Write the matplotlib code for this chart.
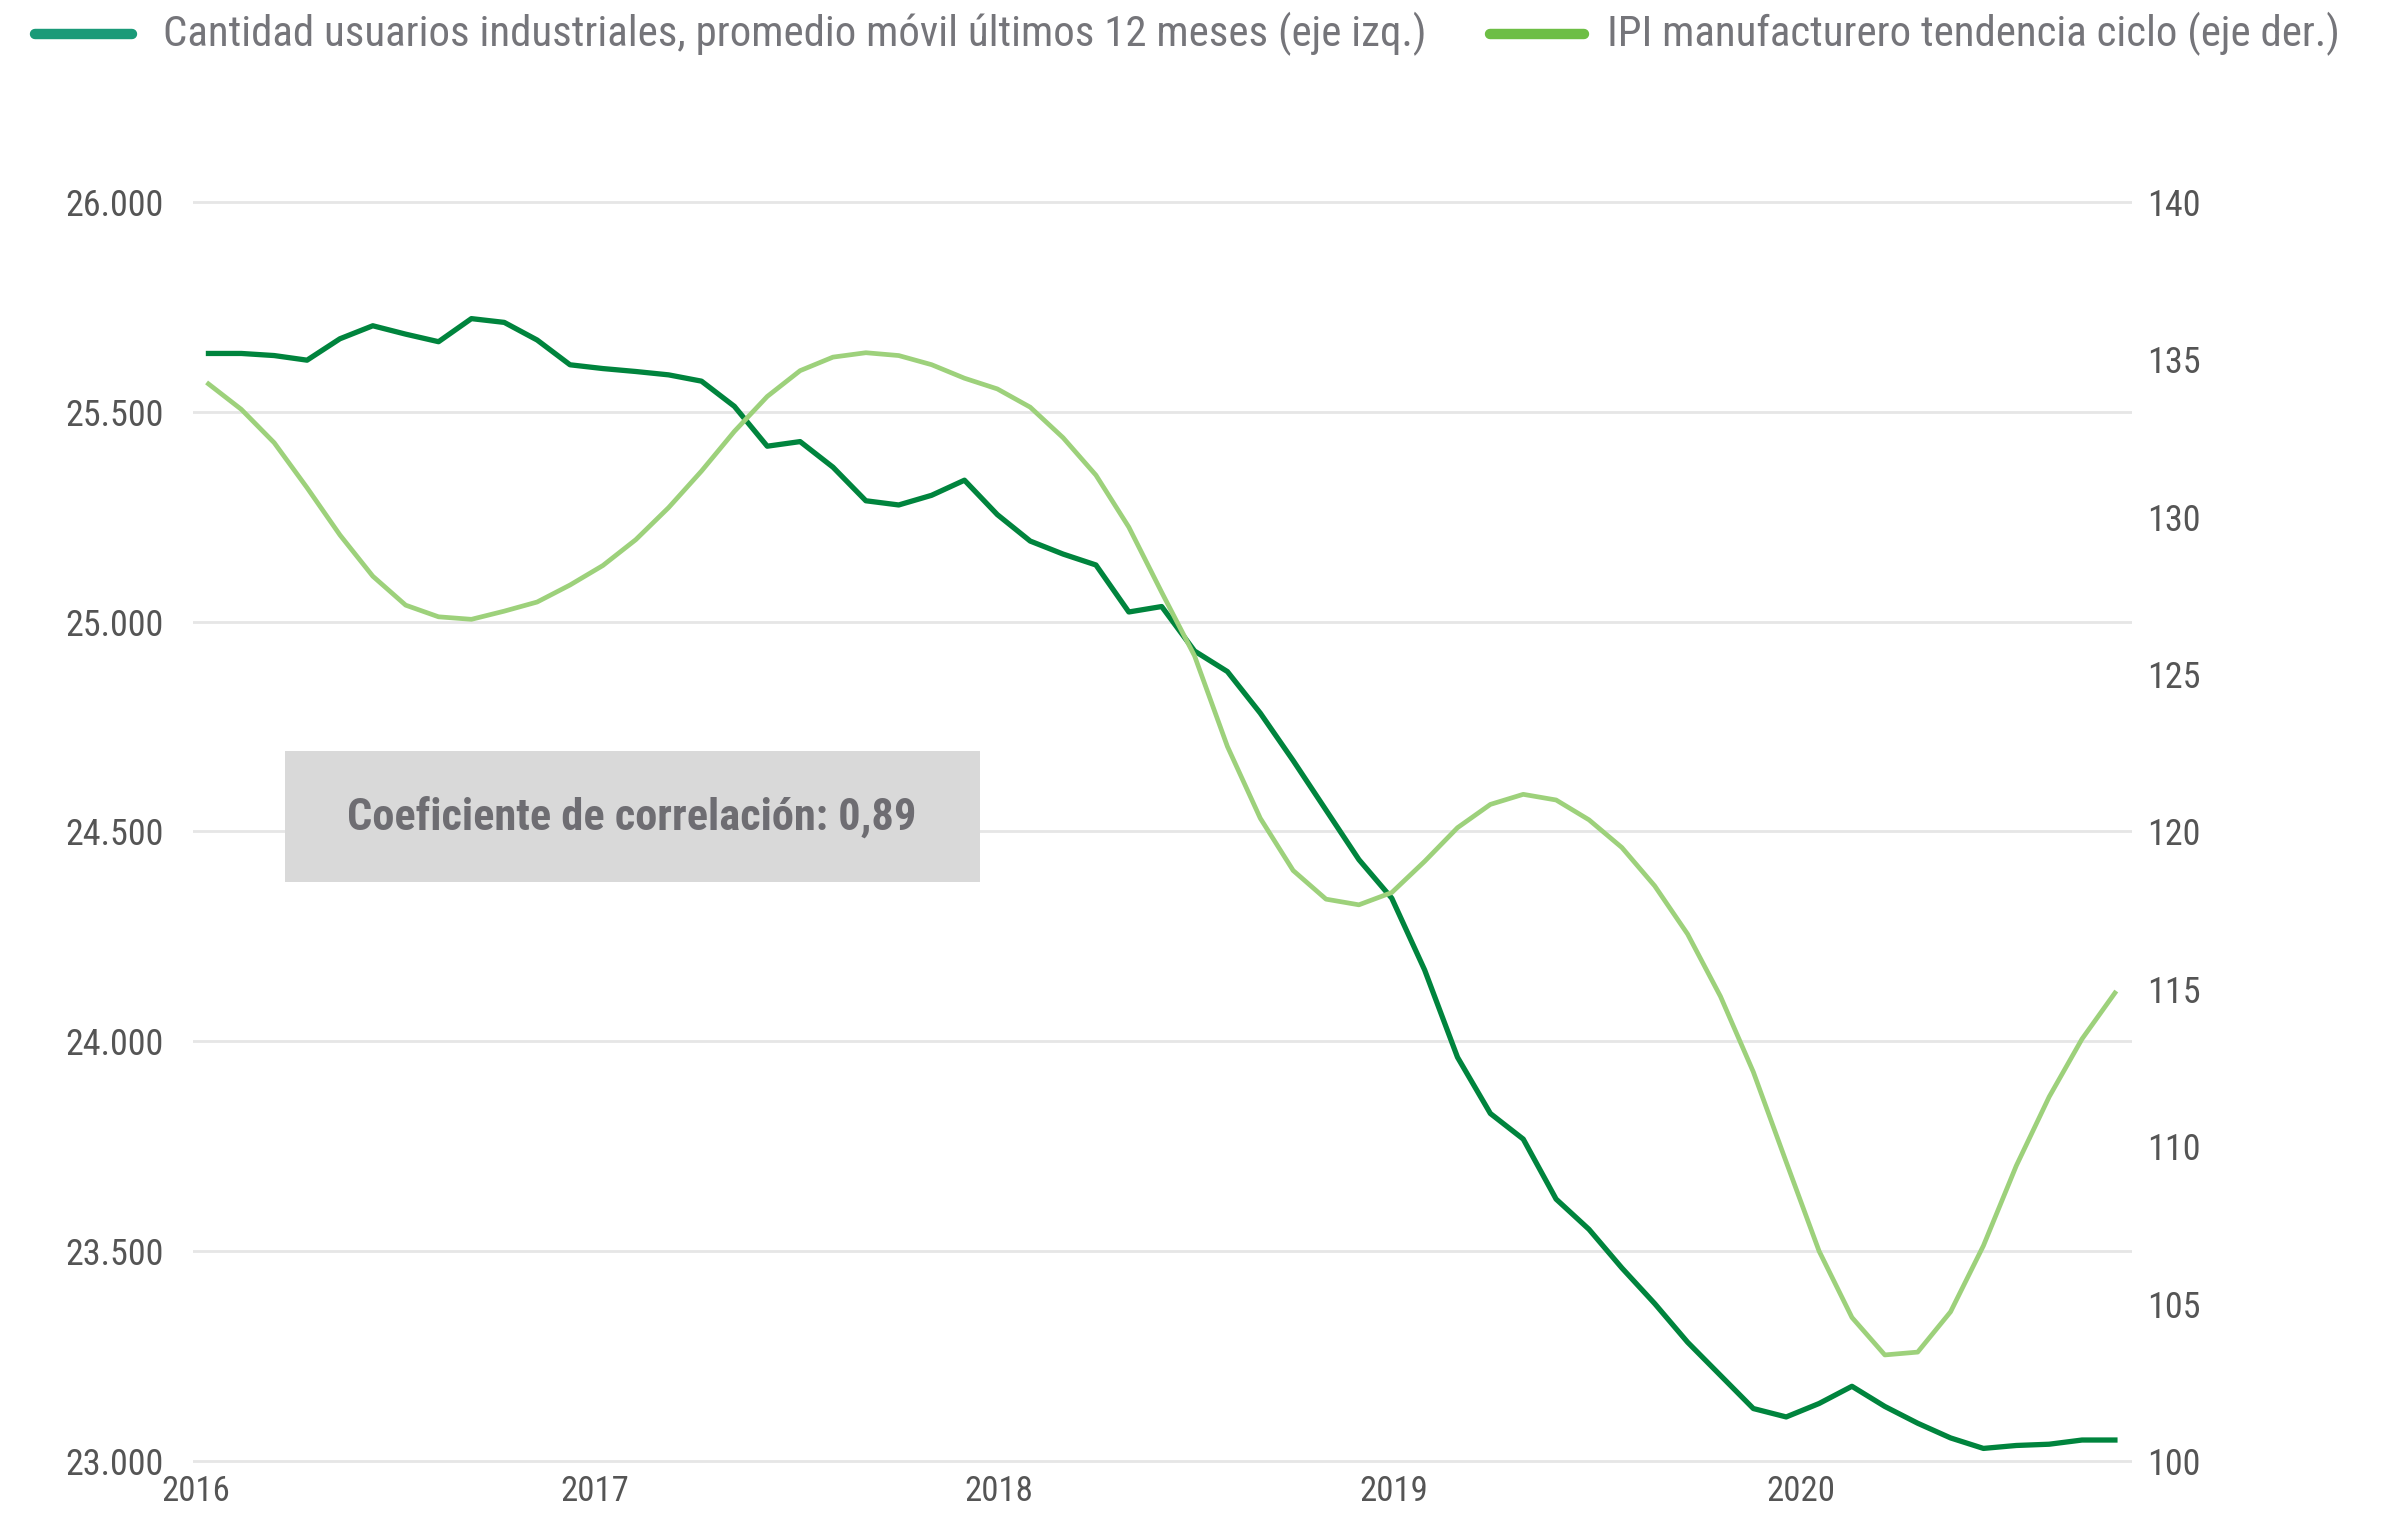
import matplotlib

matplotlib.use("Agg")
import matplotlib.pyplot as plt
import numpy as np
from matplotlib.lines import Line2D
from matplotlib.patches import Rectangle

plt.rcParams["font.family"] = [
    "Roboto Condensed",
    "Liberation Sans Narrow",
    "Roboto",
    "DejaVu Sans",
]

# monthly data, Jan 2016 .. Nov 2020
usuarios = [
    25639, 25639, 25634, 25623, 25674, 25705, 25685, 25667, 25722, 25713,
    25671, 25612, 25603, 25596, 25588, 25573, 25513, 25418, 25429, 25368,
    25288, 25278, 25301, 25337, 25255, 25192, 25161, 25135, 25023, 25036,
    24930, 24881, 24782, 24669, 24551, 24433, 24341, 24170, 23962, 23828,
    23767, 23624, 23552, 23460, 23375, 23283, 23204, 23125, 23105, 23137,
    23178, 23130, 23090, 23055, 23030, 23037, 23040, 23050, 23050,
]
ipi = [
    134.22, 133.41, 132.35, 130.92, 129.42, 128.11, 127.19, 126.82, 126.74, 127.00,
    127.29, 127.83, 128.45, 129.27, 130.29, 131.45, 132.71, 133.82, 134.64, 135.07,
    135.21, 135.12, 134.83, 134.40, 134.06, 133.48, 132.51, 131.32, 129.67, 127.60,
    125.58, 122.70, 120.42, 118.76, 117.85, 117.67, 118.06, 119.05, 120.12, 120.86,
    121.18, 121.00, 120.37, 119.49, 118.27, 116.74, 114.76, 112.36, 109.50, 106.67,
    104.56, 103.37, 103.46, 104.74, 106.84, 109.38, 111.57, 113.41, 114.87,
]
years = ["2016", "2017", "2018", "2019", "2020"]
left_ticks = [23000, 23500, 24000, 24500, 25000, 25500, 26000]
right_ticks = [100, 105, 110, 115, 120, 125, 130, 135, 140]

label_usuarios = "Cantidad usuarios industriales, promedio móvil últimos 12 meses (eje izq.)"
label_ipi = "IPI manufacturero tendencia ciclo (eje der.)"
note = "Coeficiente de correlación: 0,89"

W, H = 2384, 1515
fig = plt.figure(figsize=(W / 100, H / 100), dpi=100)
ax = fig.add_axes([193 / W, 0.03287, (2132 - 193) / W, 0.8366])
ax2 = ax.twinx()

x = np.arange(len(usuarios))
ax.plot(x, usuarios, color="#00843D", lw=3.8)
ax2.plot(x, ipi, color="#9DD17B", lw=3.4)

ax.set_xlim(-0.47, len(usuarios) - 0.48)
ax.set_ylim(22990, 26010)
ax2.set_ylim(100 - 10 / 75, 140 + 10 / 75)

ax.set_yticks(left_ticks)
ax.set_yticklabels([f"{v:,}".replace(",", ".") for v in left_ticks])
ax2.set_yticks(right_ticks)
ax2.set_yticklabels([str(v) for v in right_ticks])
ax.set_xticks([-0.37, 11.74, 24.06, 36.05, 48.44])
ax.set_xticklabels(years)

ax.grid(axis="y", color="#E6E6E6", lw=2)
ax.set_axisbelow(True)
for a in (ax, ax2):
    for s in a.spines.values():
        s.set_visible(False)
ax.tick_params(axis="y", length=0, pad=21, labelsize=26, labelcolor="#555555")
ax.tick_params(axis="x", length=0, pad=7, labelsize=25, labelcolor="#555555")
ax2.tick_params(axis="y", length=0, pad=11, labelsize=26, labelcolor="#555555")

# correlation box
fig.add_artist(
    Rectangle(
        (284.6 / W, 1 - 882 / H),
        (980 - 284.6) / W,
        131 / H,
        transform=fig.transFigure,
        facecolor="#D9D9D9",
        edgecolor="none",
    )
)
t_note = fig.text(
    632 / W, 1 - 817 / H, note, ha="center", va="center",
    fontsize=30, fontweight="bold", color="#6E6D72",
)

# legend on top
ly = 1 - 34 / H
fig.add_artist(Line2D([35 / W, 132 / W], [ly, ly], transform=fig.transFigure,
                      color="#1A9A78", lw=7.5, solid_capstyle="round"))
fig.add_artist(Line2D([1490 / W, 1584 / W], [ly, ly], transform=fig.transFigure,
                      color="#6DBE45", lw=7.5, solid_capstyle="round"))
t1 = fig.text(163 / W, ly, label_usuarios, ha="left", va="center",
              fontsize=28, color="#75757A")
t2 = fig.text(1607 / W, ly, label_ipi, ha="left", va="center",
              fontsize=28, color="#75757A")

# fit text widths to the reference
r = fig.canvas.get_renderer()


def fitted(txt, target):
    w = txt.get_window_extent(renderer=r).width
    return txt.get_fontsize() * target / w


size_leg = (fitted(t1, 1272) + fitted(t2, 727)) / 2
t1.set_fontsize(size_leg)
t2.set_fontsize(size_leg)
t_note.set_fontsize(fitted(t_note, 570))

fig.savefig("out.png", dpi=100)
